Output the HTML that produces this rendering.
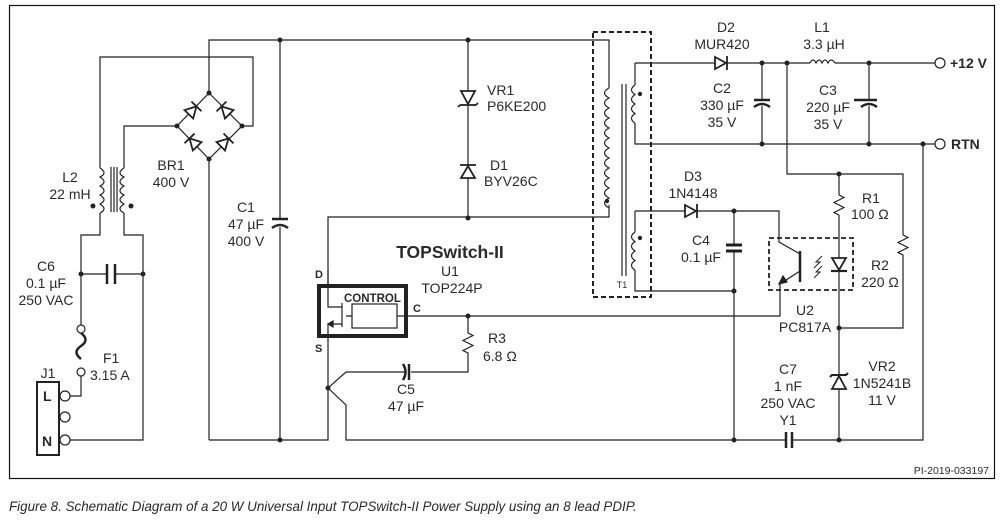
<!DOCTYPE html>
<html><head><meta charset="utf-8"><style>
html,body{margin:0;padding:0;background:#fff;}
svg{display:block;}
text{font-family:"Liberation Sans",sans-serif;font-size:14px;fill:#2a2a2a;}
.b{font-weight:bold;}
</style></head><body>
<svg width="1005" height="525" viewBox="0 0 1005 525" xmlns="http://www.w3.org/2000/svg">
<rect x="9.5" y="5.5" width="985" height="473" fill="none" stroke="#111" stroke-width="1.2"/>
<g fill="none" stroke="#222" stroke-width="1.2">
<path d="M209 93V40H609V88"/>
<path d="M609 205V217H328V284"/>
<path d="M280 40V219M280 227V440"/>
<path d="M272 219H288" stroke-width="2.5"/>
<path d="M272 228Q280 222 288 228" stroke-width="2.5"/>
<path d="M468 40V217"/>
<path d="M209 93L242 126L209 159L177 126Z"/>
<path d="M242 126H253V57H100V168"/>
<path d="M177 126H124V168"/>
<path d="M209 159V440"/>
<path d="M100 168q8 5 0 9q8 5 0 9q8 5 0 9q8 5 0 9q8 5 0 9"/>
<path d="M124 168q-8 5 0 9q-8 5 0 9q-8 5 0 9q-8 5 0 9q-8 5 0 9"/>
<path d="M111 167V212M114 167V212M117 167V212"/>
<path d="M100 213V235H81V325"/>
<path d="M124 213V235H143V440H70"/>
<path d="M81 274H107M115 274H143"/>
<path d="M107 264V284M115 264V284" stroke-width="2.5"/>
<path d="M81 333Q90 340 81 346Q72 352 81 359" stroke-width="2.5"/>
<path d="M81 376V396H70"/>
<rect x="37" y="382" width="22" height="73" stroke-width="2"/>
<path d="M609 88q-9 5 0 10q-9 5 0 10q-9 5 0 10q-9 5 0 10q-9 5 0 10q-9 5 0 10q-9 5 0 10q-9 5 0 10q-9 5 0 10q-9 5 0 10q-9 5 0 10q-9 5 0 10"/>
<path d="M622 84V276M626 84V276"/>
<path d="M635 63V85"/>
<path d="M635 85q-7 5 0 9.5q-7 5 0 9.5q-7 5 0 9.5q-7 5 0 9.5"/>
<path d="M635 123V144H940"/>
<path d="M635 63H715M727 63H810M835 63H935"/>
<path d="M810 63q3-6 6 0q3-6 6 0q3-6 6 0q3-6 7 0"/>
<path d="M762 63V100M762 106V144M869 63V100M869 106V144"/>
<path d="M754 100H770M854 100H877 M861 100H877" stroke-width="2.5"/>
<path d="M754 107Q762 101 770 107M861 107Q869 101 877 107" stroke-width="2.5"/>
<path d="M787 63V174H903V235"/>
<path d="M839 174V195M839 215V258M839 271V440"/>
<path d="M839 195l5 2.5l-10 5l10 5l-10 5l5 2.5"/>
<path d="M903 235l5 2.5l-10 5l10 5l-10 5l5 2.5V328H839"/>
<path d="M923 144V440H839"/>
<path d="M635 211V232"/>
<path d="M635 232q-7 5 0 9.5q-7 5 0 9.5q-7 5 0 9.5q-7 5 0 9.5"/>
<path d="M635 270V291H734"/>
<path d="M635 211H685M697 211H779V242L800 254"/>
<path d="M734 211V245M734 252V440"/>
<path d="M726 245H742M726 251H742" stroke-width="3"/>
<path d="M800 251V282" stroke-width="2.5"/>
<path d="M800 271L780 284V316H408"/>
<path d="M783 276l-4 8l8-2z" fill="#222"/>
<path d="M832 258H846L839 270Z" stroke-width="1.8"/>
<path d="M831 271H847" stroke-width="2.2"/>
<path d="M822 256l-6 6 4 0-6 6M822 266l-6 6 4 0-6 6" stroke-width="1"/>
<rect x="319" y="286" width="87" height="50" stroke-width="4"/>
<rect x="352" y="304" width="45" height="24"/>
<path d="M328 270V307H342M342 303V327M346 316H352M397 316H408"/>
<path d="M342 324H328V345"/>
<path d="M333 321l-5 3 5 3z" fill="#222"/>
<path d="M328 345V440H209"/>
<path d="M468 316V333l5 2.5l-10 5l10 5l-10 5l5 2.5V372H411"/>
<path d="M405 372H346L328 388L346 405V440H786M792 440H839"/>
<path d="M409 364V380" stroke-width="2.5"/>
<path d="M403 364Q408 372 403 380" stroke-width="2.5"/>
<path d="M786 432V448M792 432V448" stroke-width="2.5"/>
<path d="M832 389H846L839 376Z" fill="#fff" stroke-width="1.8"/>
<path d="M830 377L832 375H846L848 373" stroke-width="2"/>
<rect x="593" y="32" width="58" height="265" stroke-dasharray="5,3" stroke-width="2"/>
<rect x="769" y="238" width="84" height="52" stroke-dasharray="5,3" stroke-width="1.8"/>
<circle cx="81" cy="329" r="4" fill="#fff"/><circle cx="81" cy="372" r="4" fill="#fff"/>
<circle cx="65" cy="396" r="5" fill="#fff"/><circle cx="65" cy="417" r="5" fill="#fff"/><circle cx="65" cy="440" r="5" fill="#fff"/>
<circle cx="940" cy="63" r="5" fill="#fff"/><circle cx="940" cy="144" r="5" fill="#fff"/>
</g>
<g fill="#fff" stroke="#222" stroke-width="1.8">
<path d="M461 91H475L468 104Z"/><path d="M460 105H476"/><path d="M460 105l-2 2M476 105l2-2"/>
<path d="M461 178H475L468 166Z"/><path d="M460 165H476"/>
<path d="M715 57V69L726 63Z"/><path d="M727 56V70"/>
<path d="M685 205V217L696 211Z"/><path d="M697 204V218"/>
<g transform="translate(193,110) rotate(-46)"><path d="M-6 -6L-6 6L5 0Z"/><path d="M5 -7V7"/></g>
<g transform="translate(225,110) rotate(-135)"><path d="M-6 -6L-6 6L5 0Z"/><path d="M5 -7V7"/></g>
<g transform="translate(193,142) rotate(-134)"><path d="M-6 -6L-6 6L5 0Z"/><path d="M5 -7V7"/></g>
<g transform="translate(225,142) rotate(-45)"><path d="M-6 -6L-6 6L5 0Z"/><path d="M5 -7V7"/></g>
</g>
<g fill="#222">
<circle cx="280" cy="40" r="2.5"/><circle cx="468" cy="40" r="2.5"/><circle cx="468" cy="218" r="2.5"/>
<circle cx="209" cy="93" r="2.5"/><circle cx="177" cy="126" r="2.5"/><circle cx="242" cy="126" r="2.5"/><circle cx="209" cy="159" r="2.5"/>
<circle cx="93" cy="206" r="2.5"/><circle cx="131" cy="206" r="2.5"/>
<circle cx="81" cy="274" r="2.5"/><circle cx="143" cy="274" r="2.5"/>
<circle cx="280" cy="440" r="2.5"/><circle cx="328" cy="388" r="2.5"/><circle cx="468" cy="316" r="2.5"/>
<circle cx="607" cy="201" r="2.2"/><circle cx="640" cy="94" r="2.2"/><circle cx="640" cy="238" r="2.2"/>
<circle cx="762" cy="63" r="2.5"/><circle cx="787" cy="63" r="2.5"/><circle cx="869" cy="63" r="2.5"/>
<circle cx="762" cy="144" r="2.5"/><circle cx="869" cy="144" r="2.5"/><circle cx="923" cy="144" r="2.5"/>
<circle cx="839" cy="174" r="2.5"/><circle cx="734" cy="211" r="2.5"/><circle cx="734" cy="291" r="2.5"/>
<circle cx="839" cy="328" r="2.5"/><circle cx="734" cy="440" r="2.5"/><circle cx="839" cy="440" r="2.5"/>
</g>
<text x="70" y="182" text-anchor="middle">L2</text><text x="70" y="199" text-anchor="middle">22 mH</text>
<text x="171" y="170" text-anchor="middle">BR1</text><text x="171" y="187" text-anchor="middle">400 V</text>
<text x="246" y="212" text-anchor="middle">C1</text><text x="246" y="229" text-anchor="middle">47 µF</text><text x="246" y="246" text-anchor="middle">400 V</text>
<text x="46" y="271" text-anchor="middle">C6</text><text x="46" y="288" text-anchor="middle">0.1 µF</text><text x="46" y="305" text-anchor="middle">250 VAC</text>
<text x="103" y="363">F1</text><text x="90" y="380">3.15 A</text>
<text x="48" y="378" text-anchor="middle">J1</text>
<text class="b" x="43" y="401">L</text><text class="b" x="42" y="446">N</text>
<text x="487" y="111">P6KE200</text><text x="487" y="95">VR1</text>
<text x="499" y="170" text-anchor="middle">D1</text><text x="484" y="186">BYV26C</text>
<text class="b" x="450" y="258" text-anchor="middle" style="font-size:17.5px">TOPSwitch-II</text>
<text x="450" y="276" text-anchor="middle">U1</text><text x="452" y="293" text-anchor="middle">TOP224P</text>
<text class="b" x="315" y="278" style="font-size:11px">D</text><text class="b" x="315" y="352" style="font-size:11px">S</text>
<text class="b" x="344" y="302" style="font-size:11.5px">CONTROL</text><text class="b" x="413" y="312" style="font-size:11px">C</text>
<text x="488" y="343">R3</text><text x="483" y="361">6.8 Ω</text>
<text x="406" y="394" text-anchor="middle">C5</text><text x="406" y="411" text-anchor="middle">47 µF</text>
<text x="726" y="32" text-anchor="middle">D2</text><text x="722" y="49" text-anchor="middle">MUR420</text>
<text x="822" y="32" text-anchor="middle">L1</text><text x="824" y="49" text-anchor="middle">3.3 µH</text>
<text class="b" x="950" y="68">+12 V</text><text class="b" x="951" y="149">RTN</text>
<text x="722" y="93" text-anchor="middle">C2</text><text x="722" y="110" text-anchor="middle">330 µF</text><text x="722" y="127" text-anchor="middle">35 V</text>
<text x="828" y="95" text-anchor="middle">C3</text><text x="828" y="112" text-anchor="middle">220 µF</text><text x="828" y="129" text-anchor="middle">35 V</text>
<text x="693" y="181" text-anchor="middle">D3</text><text x="693" y="198" text-anchor="middle">1N4148</text>
<text x="701" y="245" text-anchor="middle">C4</text><text x="701" y="262" text-anchor="middle">0.1 µF</text>
<text x="862" y="203">R1</text><text x="851" y="219">100 Ω</text>
<text x="880" y="270" text-anchor="middle">R2</text><text x="880" y="287" text-anchor="middle">220 Ω</text>
<text x="805" y="315" text-anchor="middle">U2</text><text x="805" y="332" text-anchor="middle">PC817A</text>
<text x="882" y="371" text-anchor="middle">VR2</text><text x="882" y="388" text-anchor="middle">1N5241B</text><text x="882" y="405" text-anchor="middle">11 V</text>
<text x="788" y="374" text-anchor="middle">C7</text><text x="788" y="391" text-anchor="middle">1 nF</text><text x="788" y="408" text-anchor="middle">250 VAC</text><text x="788" y="425" text-anchor="middle">Y1</text>
<text x="622" y="288" style="font-size:9px" text-anchor="middle">T1</text>
<text x="989" y="474" text-anchor="end" style="font-size:10.5px">PI-2019-033197</text>
<text x="9" y="511" style="font-size:13.4px;font-style:italic">Figure 8.  Schematic Diagram of a 20 W Universal Input TOPSwitch-II Power Supply using an 8 lead PDIP.</text>
</svg>
</body></html>
